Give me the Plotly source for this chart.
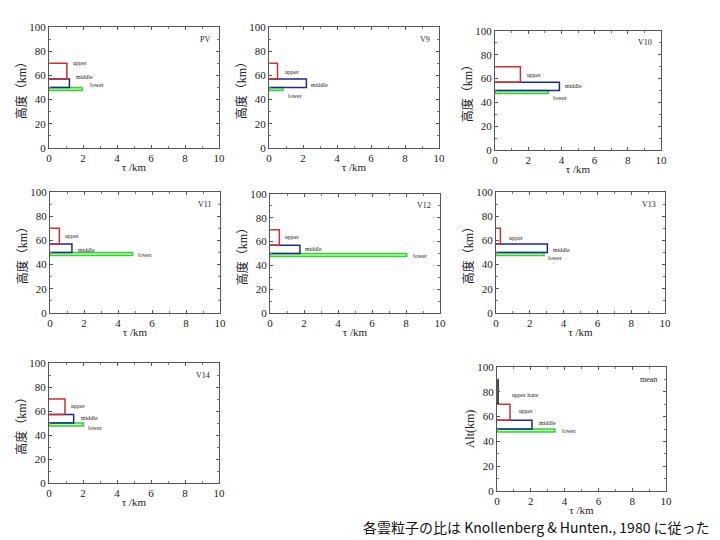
import plotly.graph_objects as go

# ---- data ----
panels = ["PV", "V9", "V10", "V11", "V12", "V13", "V14", "mean"]
tau_upper = [1.05, 0.5, 1.53, 0.55, 0.55, 0.26, 0.94, 0.77]
tau_middle = [1.2, 2.2, 3.88, 1.29, 1.76, 3.04, 1.45, 2.07]
tau_lower = [1.95, 0.82, 3.21, 4.86, 8.04, 2.84, 2.03, 3.43]
tau_haze_mean = 0.06
# layer altitudes (km)
haze_top, upper_top, middle_top, lower_top, lower_bot = 90, 70, 57, 50, 47.5
ytitles = ["高度（km）"] * 7 + ["Alt(km)"]
# label positions (x, y) in data units
upper_lab = [(1.27, 70), (0.82, 63), (1.79, 62.8), (0.75, 63.4), (0.75, 64), (0.63, 61.8), (1.19, 63.9), (1.2, 64.6)]
middle_lab = [(1.45, 59), (2.35, 52.3), (4.1, 53.6), (1.53, 52.3), (1.92, 54), (3.25, 51.8), (1.78, 54), (2.36, 54.9)]
lower_lab = [(2.3, 52), (1.02, 43), (3.4, 43.3), (5.06, 47.7), (8.3, 48.3), (2.96, 45.4), (2.19, 45.6), (3.74, 48.4)]
haze_lab = (0.75, 77.6)
caption = "各雲粒子の比は Knollenberg & Hunten., 1980 に従った"

# panel pixel boxes in the 720x540 frame (left, right, top, bottom)
boxes = [(49, 219, 27, 148), (269, 439, 27, 148), (495, 661, 31, 150),
         (50, 220, 192, 313), (270, 440, 194, 313), (496, 665, 192, 313),
         (49, 219, 363, 483), (497, 666, 367, 491)]
OFF = 8  # page body margin
W, H = 720 - OFF, 540 - OFF

RED = "#c83232"
BLUE = "#1c2a8a"
GREEN = "#3ccc3c"
GREENFILL = "#b8f5b0"

fig = go.Figure()
layout = dict(width=W, height=H, margin=dict(l=0, r=0, t=0, b=0, autoexpand=False),
              paper_bgcolor="white", plot_bgcolor="white", showlegend=False)
annotations = []

def rect(t, top, bot):
    return [0, t, t, 0], [top, top, bot, bot]

for i, name in enumerate(panels):
    sx = "" if i == 0 else str(i + 1)
    xa, ya = "x" + sx, "y" + sx
    l, r, t, b = [v - OFF for v in boxes[i]]
    layout["xaxis" + sx] = dict(
        domain=[l / W, r / W], anchor=ya, range=[0, 10], dtick=2, tick0=0,
        showline=True, linecolor="#555", linewidth=1, mirror="ticks",
        ticks="inside", ticklen=3, tickcolor="#555", automargin=False,
        minor=dict(dtick=1, ticks="inside", ticklen=2, tickcolor="#777"),
        showgrid=False, zeroline=False,
        tickfont=dict(family="Liberation Serif", size=11, color="#222"),
        title=dict(text="τ /km", font=dict(family="Liberation Serif", size=11, color="#222"), standoff=0))
    layout["yaxis" + sx] = dict(
        domain=[1 - b / H, 1 - t / H], anchor=xa, range=[0, 100], dtick=20, tick0=0,
        showline=True, linecolor="#555", linewidth=1, mirror="ticks",
        ticks="inside", ticklen=3, tickcolor="#555", automargin=False,
        minor=dict(dtick=10, ticks="inside", ticklen=2, tickcolor="#777"),
        showgrid=False, zeroline=False,
        tickfont=dict(family="Liberation Serif", size=11, color="#222"),
        title=dict(text=ytitles[i], font=dict(family="Liberation Serif, Noto Sans CJK JP", size=12, color="#222"), standoff=0))

    # lower (filled green)
    x, y = rect(tau_lower[i], lower_top, lower_bot)
    fig.add_trace(go.Scatter(x=x + [0], y=y + [lower_top], mode="lines", fill="toself",
                             fillcolor=GREENFILL, line=dict(color=GREEN, width=1.5),
                             xaxis=xa, yaxis=ya, hoverinfo="skip"))
    # middle
    x, y = rect(tau_middle[i], middle_top, lower_top)
    fig.add_trace(go.Scatter(x=x, y=y, mode="lines", line=dict(color=BLUE, width=1.5),
                             xaxis=xa, yaxis=ya, hoverinfo="skip"))
    # upper
    x, y = rect(tau_upper[i], upper_top, middle_top)
    fig.add_trace(go.Scatter(x=x, y=y, mode="lines", line=dict(color=RED, width=1.5),
                             xaxis=xa, yaxis=ya, hoverinfo="skip"))
    labfont = dict(family="Liberation Serif", size=6, color="#222")
    for lab, txt in ((upper_lab[i], "upper"), (middle_lab[i], "middle"), (lower_lab[i], "lower")):
        annotations.append(dict(x=lab[0], y=lab[1], xref=xa, yref=ya, text=txt, showarrow=False,
                                xanchor="left", yanchor="middle", font=labfont))
    if name == "mean":
        x, y = rect(tau_haze_mean, haze_top, upper_top)
        fig.add_trace(go.Scatter(x=x, y=y, mode="lines", line=dict(color="#111", width=1.5),
                                 xaxis=xa, yaxis=ya, hoverinfo="skip"))
        annotations.append(dict(x=haze_lab[0], y=haze_lab[1], xref=xa, yref=ya, text="upper haze",
                                showarrow=False, xanchor="left", yanchor="middle", font=labfont))
    annotations.append(dict(x=0.96, y=0.9, xref=xa + " domain", yref=ya + " domain", text=name,
                            showarrow=False, xanchor="right", yanchor="middle",
                            font=dict(family="Liberation Serif", size=8, color="#222")))

annotations.append(dict(x=(712 - OFF) / W, y=1 - (527 - OFF) / H, xref="paper", yref="paper", text=caption,
                        showarrow=False, xanchor="right", yanchor="middle",
                        font=dict(family="Noto Sans CJK JP", size=14, color="#111")))
layout["annotations"] = annotations
fig.update_layout(**layout)
fig.write_html("out.html")
